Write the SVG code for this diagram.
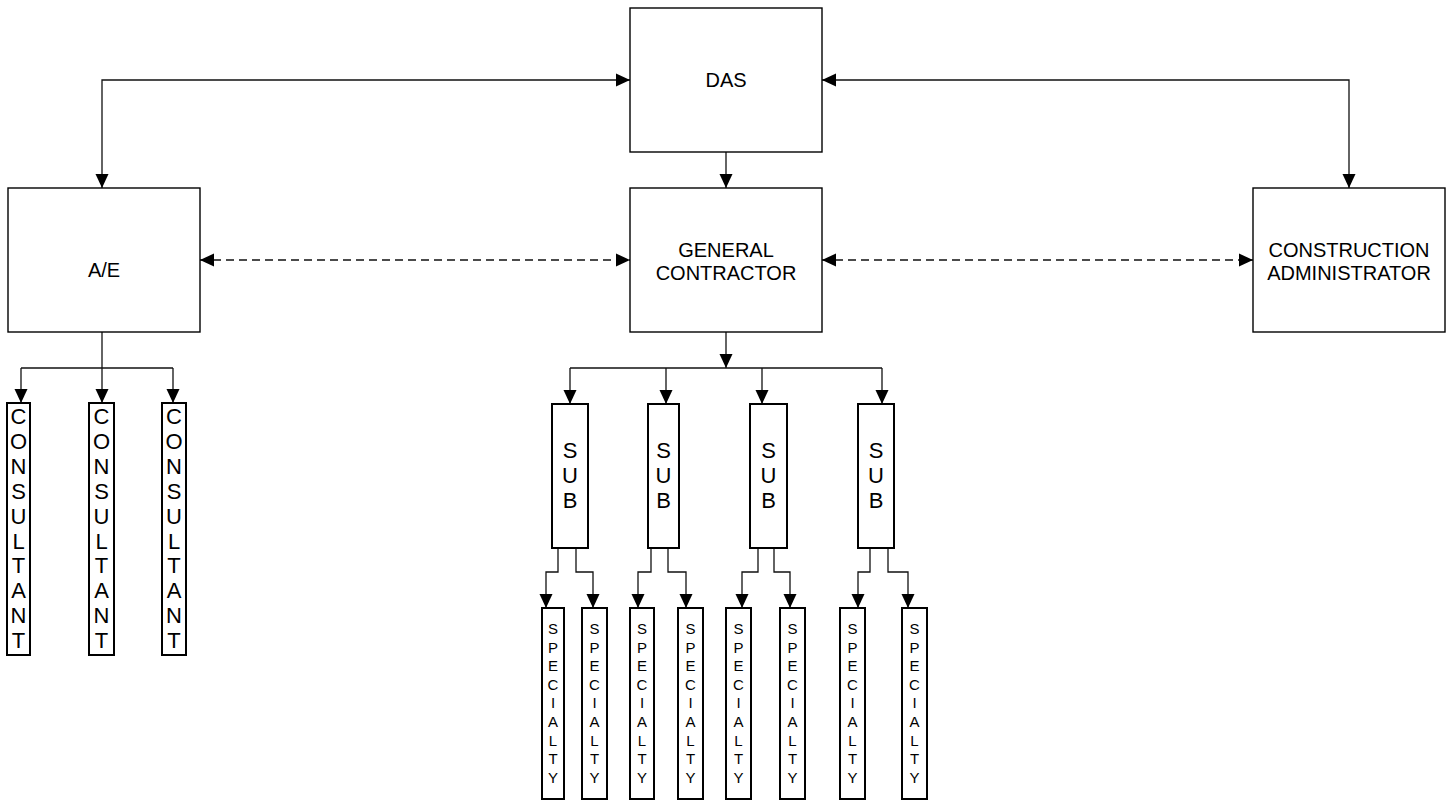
<svg xmlns="http://www.w3.org/2000/svg" width="1452" height="801" viewBox="0 0 1452 801">
<defs>
<marker id="ah" viewBox="0 0 14 14" refX="14" refY="7" markerWidth="14" markerHeight="14" markerUnits="userSpaceOnUse" orient="auto-start-reverse">
<path d="M0,0.5 L14,7 L0,13.5 z" fill="#000"/>
</marker>
<style>
.box{fill:#fff;stroke:#000;stroke-width:1.4}
.tbox{fill:#fff;stroke:#000;stroke-width:2}
.ln{fill:none;stroke:#111;stroke-width:1.3}
.arr{fill:none;stroke:#111;stroke-width:1.3;marker-end:url(#ah)}
.bi{fill:none;stroke:#111;stroke-width:1.3;marker-start:url(#ah);marker-end:url(#ah)}
.dash{stroke-dasharray:8,5}
.t{font-family:"Liberation Sans",Arial,sans-serif;font-size:20px;fill:#000;text-anchor:middle}
.v{font-family:"Liberation Sans",Arial,sans-serif;font-size:22px;fill:#000;text-anchor:middle}
.s{font-family:"Liberation Sans",Arial,sans-serif;font-size:15px;fill:#000;text-anchor:middle}
</style>
</defs>
<rect width="1452" height="801" fill="#fff"/>

<g id="connectors">
<path class="bi" d="M630,80 H102 V188"/>
<path class="bi" d="M822,80 H1349 V188"/>
<path class="arr" d="M726,152 V188"/>
<path class="bi dash" d="M200,260 H630"/>
<path class="bi dash" d="M822,260 H1253"/>
<path class="arr" d="M102,332 V403"/>
<path class="ln" d="M21,368 H173"/>
<path class="arr" d="M21,368 V403"/>
<path class="arr" d="M173,368 V403"/>
<path class="arr" d="M726,332 V368"/>
<path class="ln" d="M570,368 H882"/>
<path class="arr" d="M570,368 V404"/>
<path class="arr" d="M666,368 V404"/>
<path class="arr" d="M762,368 V404"/>
<path class="arr" d="M882,368 V404"/>
<path class="arr" d="M558,548 V572 H546 V608"/>
<path class="arr" d="M576,548 V572 H593 V608"/>
<path class="arr" d="M651,548 V572 H638 V608"/>
<path class="arr" d="M668,548 V572 H686 V608"/>
<path class="arr" d="M758,548 V572 H742 V608"/>
<path class="arr" d="M774,548 V572 H790 V608"/>
<path class="arr" d="M870,548 V572 H858 V608"/>
<path class="arr" d="M888,548 V572 H908 V608"/>
</g>

<g id="das"><rect class="box" x="630" y="8" width="192" height="144"/><text class="t" x="726" y="87">DAS</text></g>
<g id="ae"><rect class="box" x="8" y="188" width="192" height="144"/><text class="t" x="104" y="277">A/E</text></g>
<g id="gc"><rect class="box" x="630" y="188" width="192" height="144"/><text class="t" x="726" y="257">GENERAL</text><text class="t" x="726" y="280">CONTRACTOR</text></g>
<g id="ca"><rect class="box" x="1253" y="188" width="192" height="144"/><text class="t" x="1349" y="257">CONSTRUCTION</text><text class="t" x="1349" y="280">ADMINISTRATOR</text></g>

<g id="consultant1"><rect class="tbox" x="7" y="403" width="23" height="252"/>
<text class="v"><tspan x="18.5" y="424">C</tspan><tspan x="18.5" y="449">O</tspan><tspan x="18.5" y="474">N</tspan><tspan x="18.5" y="499">S</tspan><tspan x="18.5" y="524">U</tspan><tspan x="18.5" y="549">L</tspan><tspan x="18.5" y="573">T</tspan><tspan x="18.5" y="598">A</tspan><tspan x="18.5" y="623">N</tspan><tspan x="18.5" y="648">T</tspan></text></g>
<g id="consultant2"><rect class="tbox" x="89" y="403" width="25" height="252"/>
<text class="v"><tspan x="101.5" y="424">C</tspan><tspan x="101.5" y="449">O</tspan><tspan x="101.5" y="474">N</tspan><tspan x="101.5" y="499">S</tspan><tspan x="101.5" y="524">U</tspan><tspan x="101.5" y="549">L</tspan><tspan x="101.5" y="573">T</tspan><tspan x="101.5" y="598">A</tspan><tspan x="101.5" y="623">N</tspan><tspan x="101.5" y="648">T</tspan></text></g>
<g id="consultant3"><rect class="tbox" x="162" y="403" width="24" height="252"/>
<text class="v"><tspan x="174" y="424">C</tspan><tspan x="174" y="449">O</tspan><tspan x="174" y="474">N</tspan><tspan x="174" y="499">S</tspan><tspan x="174" y="524">U</tspan><tspan x="174" y="549">L</tspan><tspan x="174" y="573">T</tspan><tspan x="174" y="598">A</tspan><tspan x="174" y="623">N</tspan><tspan x="174" y="648">T</tspan></text></g>

<g id="sub1"><rect class="tbox" x="552" y="404" width="36" height="144"/><text class="v"><tspan x="570" y="458">S</tspan><tspan x="570" y="483">U</tspan><tspan x="570" y="508">B</tspan></text></g>
<g id="sub2"><rect class="tbox" x="648" y="404" width="31" height="144"/><text class="v"><tspan x="663.5" y="458">S</tspan><tspan x="663.5" y="483">U</tspan><tspan x="663.5" y="508">B</tspan></text></g>
<g id="sub3"><rect class="tbox" x="750" y="404" width="37" height="144"/><text class="v"><tspan x="768.5" y="458">S</tspan><tspan x="768.5" y="483">U</tspan><tspan x="768.5" y="508">B</tspan></text></g>
<g id="sub4"><rect class="tbox" x="858" y="404" width="36" height="144"/><text class="v"><tspan x="876" y="458">S</tspan><tspan x="876" y="483">U</tspan><tspan x="876" y="508">B</tspan></text></g>

<g id="spec1"><rect class="tbox" x="542" y="608" width="22" height="191"/><text class="s"><tspan x="553" y="634">S</tspan><tspan x="553" y="652.6">P</tspan><tspan x="553" y="671.2">E</tspan><tspan x="553" y="689.8">C</tspan><tspan x="553" y="708.4">I</tspan><tspan x="553" y="727">A</tspan><tspan x="553" y="745.6">L</tspan><tspan x="553" y="764.2">T</tspan><tspan x="553" y="783">Y</tspan></text></g>
<g id="spec2"><rect class="tbox" x="582" y="608" width="25" height="191"/><text class="s"><tspan x="594.5" y="634">S</tspan><tspan x="594.5" y="652.6">P</tspan><tspan x="594.5" y="671.2">E</tspan><tspan x="594.5" y="689.8">C</tspan><tspan x="594.5" y="708.4">I</tspan><tspan x="594.5" y="727">A</tspan><tspan x="594.5" y="745.6">L</tspan><tspan x="594.5" y="764.2">T</tspan><tspan x="594.5" y="783">Y</tspan></text></g>
<g id="spec3"><rect class="tbox" x="630" y="608" width="24" height="191"/><text class="s"><tspan x="642" y="634">S</tspan><tspan x="642" y="652.6">P</tspan><tspan x="642" y="671.2">E</tspan><tspan x="642" y="689.8">C</tspan><tspan x="642" y="708.4">I</tspan><tspan x="642" y="727">A</tspan><tspan x="642" y="745.6">L</tspan><tspan x="642" y="764.2">T</tspan><tspan x="642" y="783">Y</tspan></text></g>
<g id="spec4"><rect class="tbox" x="678" y="608" width="25" height="191"/><text class="s"><tspan x="690.5" y="634">S</tspan><tspan x="690.5" y="652.6">P</tspan><tspan x="690.5" y="671.2">E</tspan><tspan x="690.5" y="689.8">C</tspan><tspan x="690.5" y="708.4">I</tspan><tspan x="690.5" y="727">A</tspan><tspan x="690.5" y="745.6">L</tspan><tspan x="690.5" y="764.2">T</tspan><tspan x="690.5" y="783">Y</tspan></text></g>
<g id="spec5"><rect class="tbox" x="726" y="608" width="25" height="191"/><text class="s"><tspan x="738.5" y="634">S</tspan><tspan x="738.5" y="652.6">P</tspan><tspan x="738.5" y="671.2">E</tspan><tspan x="738.5" y="689.8">C</tspan><tspan x="738.5" y="708.4">I</tspan><tspan x="738.5" y="727">A</tspan><tspan x="738.5" y="745.6">L</tspan><tspan x="738.5" y="764.2">T</tspan><tspan x="738.5" y="783">Y</tspan></text></g>
<g id="spec6"><rect class="tbox" x="780" y="608" width="25" height="191"/><text class="s"><tspan x="792.5" y="634">S</tspan><tspan x="792.5" y="652.6">P</tspan><tspan x="792.5" y="671.2">E</tspan><tspan x="792.5" y="689.8">C</tspan><tspan x="792.5" y="708.4">I</tspan><tspan x="792.5" y="727">A</tspan><tspan x="792.5" y="745.6">L</tspan><tspan x="792.5" y="764.2">T</tspan><tspan x="792.5" y="783">Y</tspan></text></g>
<g id="spec7"><rect class="tbox" x="840" y="608" width="25" height="191"/><text class="s"><tspan x="852.5" y="634">S</tspan><tspan x="852.5" y="652.6">P</tspan><tspan x="852.5" y="671.2">E</tspan><tspan x="852.5" y="689.8">C</tspan><tspan x="852.5" y="708.4">I</tspan><tspan x="852.5" y="727">A</tspan><tspan x="852.5" y="745.6">L</tspan><tspan x="852.5" y="764.2">T</tspan><tspan x="852.5" y="783">Y</tspan></text></g>
<g id="spec8"><rect class="tbox" x="902" y="608" width="25" height="191"/><text class="s"><tspan x="914.5" y="634">S</tspan><tspan x="914.5" y="652.6">P</tspan><tspan x="914.5" y="671.2">E</tspan><tspan x="914.5" y="689.8">C</tspan><tspan x="914.5" y="708.4">I</tspan><tspan x="914.5" y="727">A</tspan><tspan x="914.5" y="745.6">L</tspan><tspan x="914.5" y="764.2">T</tspan><tspan x="914.5" y="783">Y</tspan></text></g>
</svg>
